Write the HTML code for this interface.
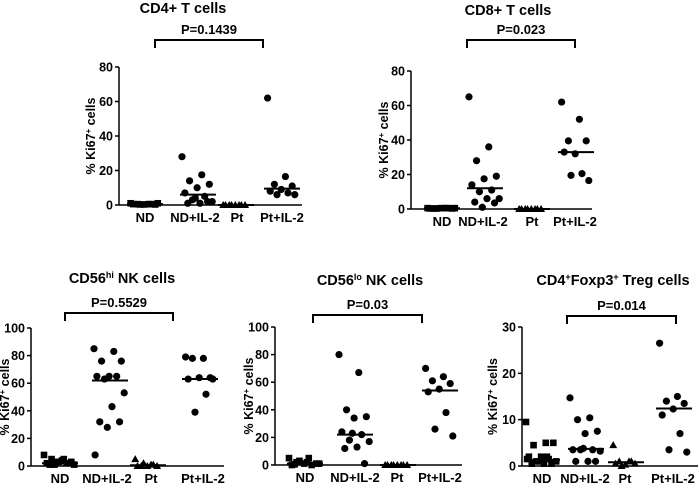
<!DOCTYPE html>
<html><head><meta charset="utf-8"><style>
html,body{margin:0;padding:0;background:#fff;}
svg{display:block;font-family:"Liberation Sans",Arial,sans-serif;font-weight:bold;}
</style></head><body>
<svg id="fig" width="700" height="490" viewBox="0 0 700 490" xmlns="http://www.w3.org/2000/svg"></svg>
<script>
const categories = ["ND","ND+IL-2","Pt","Pt+IL-2"];
const cd4Values = [[1,0.5,0.5,0.3,0.3,0.5,0.5,0.3,1],[28,17.5,14,12,10,7,5,3,2,1,1,2,4],[0,0,0,0,0,0,0,0],[62,16.5,12,11,9,8,7,6,6]];
const cd4Medians = [0.5,6,0,9.5];
const cd8Values = [[0.5,0.5,0.3,0.3,0.5,0.3,0.5,0.3,0.5],[65,36,28,19,17.5,14,11,10,6,6,4,3.5,1],[0,0,0,0,0,0,0,0],[62,52,39.5,39.5,32,33,20.5,19.5,16.5]];
const cd8Medians = [0.4,12,0,33];
const hiValues = [[8,5,5,3,3,2,2,1,1,4,1,2,3],[85,83,76,76,65,65,65,63,53,43,32,32,28,8],[5,1,0,0,0,0,1,2],[79,78,78,64,64,63,52,39,63]];
const hiMedians = [2,62,0.5,63];
const loValues = [[5,5,2,1,1,0,0,3,1,2,0.5],[80,67,40,35,34,24,22,18,17,13,12,1,23],[0,0,0,0,0,0,0,0],[70,64,61,59,55,53,38,26,21]];
const loMedians = [1,22,0,54];
const tregValues = [[9.5,5,4.5,5,2,2,1.5,1,1,0.5,0.5,0.5,1,1.5,2],[14.7,10.4,10,7.5,7,3.5,3.5,3.5,3.2,1,1,1,3.8],[4.5,1,1,0.5,0.3,0.5,1,0],[26.5,15,14,13.5,12.3,11,7,3.5,3]];
const tregMedians = [1.3,3.7,0.8,12.4];
const cd4Ticks=[0,20,40,60,80], cd8Ticks=[0,20,40,60,80], hiTicks=[0,20,40,60,80,100], loTicks=[0,20,40,60,80,100], tregTicks=[0,10,20,30];

const NS="http://www.w3.org/2000/svg";
const svg=document.getElementById('fig');
function mk(tag,attrs,parent){const e=document.createElementNS(NS,tag);for(const k in attrs)e.setAttribute(k,attrs[k]);(parent||svg).appendChild(e);return e;}
function txt(s,attrs,parent){const e=mk('text',attrs,parent);e.textContent=s;return e;}

function panel(cfg){
  const g=mk('g',{});
  
  
  const ymax=cfg.ticks[cfg.ticks.length-1];
  const y=v=>cfg.y0-(v/ymax)*(cfg.y0-cfg.yTop);
  const ax=mk('line',{x1:cfg.ax,y1:cfg.yTop,x2:cfg.ax,y2:cfg.y0,stroke:'#000','stroke-width':1.5},g);
  
  
  const xa=mk('line',{x1:cfg.ax,y1:cfg.y0,x2:cfg.axEnd,y2:cfg.y0,stroke:'#000','stroke-width':1.5},g);
  
  
  cfg.ticks.forEach(t=>{
    mk('line',{x1:cfg.ax-4,y1:y(t),x2:cfg.ax,y2:y(t),stroke:'#000','stroke-width':1.5},g);
    const l=txt(String(t),{x:cfg.ax-6,y:y(t)+4.5,'text-anchor':'end','font-size':12.5},g);
    
    
  });
  const yt=txt('',{transform:`translate(${cfg.yTitleX},${(cfg.yTop+cfg.y0)/2}) rotate(-90)`,'text-anchor':'middle','font-size':12.5},g);
  yt.innerHTML='% Ki67<tspan dy="-4" font-size="8">+</tspan><tspan dy="4"> cells</tspan>';
  
  
  const tt=txt('',{x:cfg.titleX,y:cfg.titleY,'text-anchor':'middle','font-size':14.5},g);
  tt.innerHTML=cfg.title;
  
  
  const br=mk('path',{d:`M${cfg.br[0]},${cfg.brY+8}V${cfg.brY}H${cfg.br[1]}V${cfg.brY+8}`,fill:'none',stroke:'#000','stroke-width':2},g);
  
  
  const pt=txt(cfg.p,{x:(cfg.br[0]+cfg.br[1])/2,y:cfg.brY-6,'text-anchor':'middle','font-size':13},g);
  
  
  categories.forEach((c,ci)=>{
    const cx=cfg.cx[ci];
    const cl=txt(c,{x:cfg.lx[ci],y:cfg.y0+17,'text-anchor':'middle','font-size':13},g);
    
    
    const vals=cfg.values[ci];
    const shape=cfg.shapes[ci];
    const n=vals.length, spread=Math.min(32,n*3.2);
    vals.forEach((v,i)=>{
      const f=(i*0.618034)%1;
      const dx = -spread/2 + spread*f;
      const px=cx+dx, py=y(v);
      let m;
      if(shape==='sq') m=mk('rect',{x:px-3.3,y:py-3.3,width:6.6,height:6.6,fill:'#000'},g);
      else if(shape==='tri') m=mk('polygon',{points:`${px},${py-4} ${px-4},${py+3} ${px+4},${py+3}`,fill:'#000'},g);
      else m=mk('circle',{cx:px,cy:py,r:3.6,fill:'#000'},g);
      
      
    });
    const md=mk('line',{x1:cx-18,y1:y(cfg.medians[ci]),x2:cx+18,y2:y(cfg.medians[ci]),stroke:'#000','stroke-width':2},g);
    
    
  });
}
panel({name:'cd4',title:'CD4+ T cells',titleX:183,titleY:13,p:'P=0.1439',br:[155,263],brY:40,ax:119,axEnd:302,yTop:67,y0:205,ticks:cd4Ticks,yTitleX:95,
  cx:[145,198,236,282],lx:[145,195,237,282],values:cd4Values,medians:cd4Medians,shapes:['sq','c','tri','c']});
panel({name:'cd8',title:'CD8+ T cells',titleX:508,titleY:15,p:'P=0.023',br:[467,575],brY:40,ax:411,axEnd:592,yTop:71,y0:209,ticks:cd8Ticks,yTitleX:388,
  cx:[442,485,532,576],lx:[442,483,532,575],values:cd8Values,medians:cd8Medians,shapes:['sq','c','tri','c']});
panel({name:'cd56hi',title:'CD56<tspan dy="-5" font-size="9">hi</tspan><tspan dy="5"> NK cells</tspan>',titleX:122,titleY:283,p:'P=0.5529',br:[65,173],brY:313,ax:31,axEnd:224,yTop:328,y0:466,ticks:hiTicks,yTitleX:9,
  cx:[60,110,148,200],lx:[60,107,151,203],values:hiValues,medians:hiMedians,shapes:['sq','c','tri','c']});
panel({name:'cd56lo',title:'CD56<tspan dy="-5" font-size="9">lo</tspan><tspan dy="5"> NK cells</tspan>',titleX:370,titleY:285,p:'P=0.03',br:[313,422],brY:315,ax:275,axEnd:462,yTop:327,y0:465,ticks:loTicks,yTitleX:253,
  cx:[305,355,398,440],lx:[305,355,397,440],values:loValues,medians:loMedians,shapes:['sq','c','tri','c']});
panel({name:'treg',title:'CD4<tspan dy="-5" font-size="9">+</tspan><tspan dy="5">Foxp3</tspan><tspan dy="-5" font-size="9">+</tspan><tspan dy="5"> Treg cells</tspan>',titleX:613,titleY:285,p:'P=0.014',br:[567,676],brY:316,ax:522,axEnd:698,yTop:327,y0:466,ticks:tregTicks,yTitleX:497,
  cx:[542,586,626,674],lx:[542,585,625,673],values:tregValues,medians:tregMedians,shapes:['sq','c','tri','c']});
</script>
</body></html>
